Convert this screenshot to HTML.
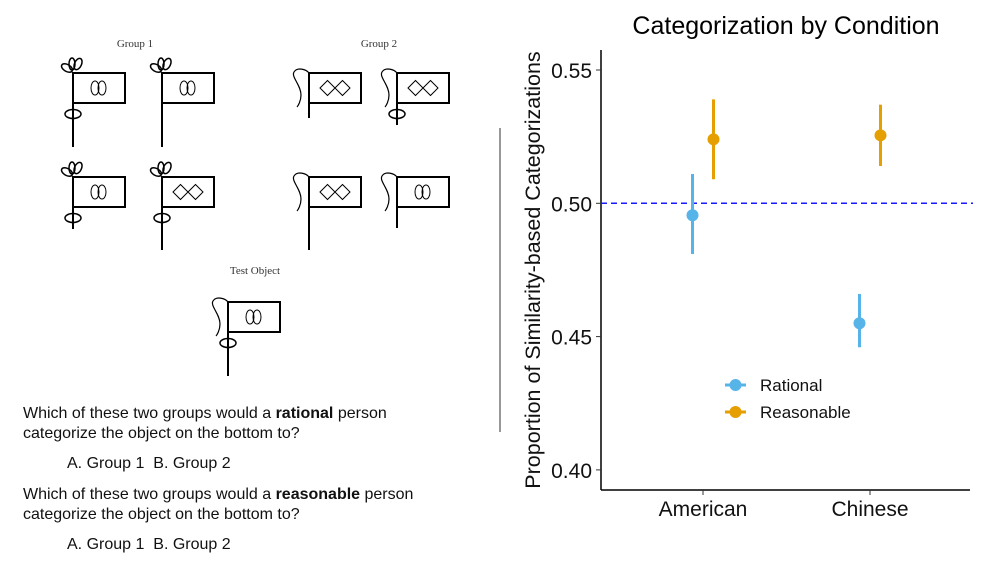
<!DOCTYPE html>
<html><head><meta charset="utf-8"><style>
html,body{margin:0;padding:0;background:#fff;}
svg{display:block;font-family:"Liberation Sans",sans-serif;}
</style></head><body>
<svg id="svg" width="1000" height="563" viewBox="0 0 1000 563">
  <g id="stimuli" fill="none" stroke="#000" stroke-width="2">
    <text x="135" y="47" font-family="Liberation Serif,serif" font-size="11" fill="#333" stroke="none" text-anchor="middle">Group 1</text>
    <text x="379" y="47" font-family="Liberation Serif,serif" font-size="11" fill="#333" stroke="none" text-anchor="middle">Group 2</text>
    <text x="255" y="274" font-family="Liberation Serif,serif" font-size="11" fill="#333" stroke="none" text-anchor="middle">Test Object</text>
  </g>
  <g font-family="Liberation Sans,DejaVu Sans,sans-serif" font-size="16" fill="#111">
    <text x="23" y="418">Which of these two groups would a <tspan font-weight="bold">rational</tspan> person</text>
    <text x="23" y="438">categorize the object on the bottom to?</text>
    <text x="67" y="468">A. Group 1&#160;&#160;B. Group 2</text>
    <text x="23" y="499">Which of these two groups would a <tspan font-weight="bold">reasonable</tspan> person</text>
    <text x="23" y="519">categorize the object on the bottom to?</text>
    <text x="67" y="549">A. Group 1&#160;&#160;B. Group 2</text>
  </g>
  <line x1="500" y1="128" x2="500" y2="432" stroke="#777" stroke-width="1.5"/>
  <g id="chart"></g>
</svg>
<script>
const categories = ["American", "Chinese"];
const seriesNames = ["Rational", "Reasonable"];
const rationalMean = [0.4955, 0.455];
const rationalLow = [0.481, 0.446];
const rationalHigh = [0.511, 0.466];
const reasonableMean = [0.524, 0.5255];
const reasonableLow = [0.509, 0.514];
const reasonableHigh = [0.539, 0.537];
const yTicks = [0.40, 0.45, 0.50, 0.55];
const yTickLabels = ["0.40", "0.45", "0.50", "0.55"];
const refValue = 0.50;

const NS = "http://www.w3.org/2000/svg";
function mk(tag, attrs, parent){const e=document.createElementNS(NS,tag);for(const k in attrs)e.setAttribute(k,attrs[k]);parent.appendChild(e);return e;}

// ---- stimuli flags ----
const stim = document.getElementById('stimuli');
function flag(px, top, bottom, topDeco, ring, sym, name){
  const g = mk('g', {}, stim);
  
  
  mk('line', {x1:px, y1:top, x2:px, y2:bottom}, g);
  mk('rect', {x:px, y:top, width:52, height:30}, g);
  if (topDeco === 'flower') {
    mk('ellipse', {cx:px-6, cy:top-5, rx:6, ry:3.5, transform:`rotate(30 ${px-6} ${top-5})`, 'stroke-width':1.5}, g);
    mk('ellipse', {cx:px-1, cy:top-9, rx:3, ry:6, 'stroke-width':1.5}, g);
    mk('ellipse', {cx:px+5, cy:top-9, rx:3.5, ry:6, transform:`rotate(25 ${px+5} ${top-9})`, 'stroke-width':1.5}, g);
  } else {
    mk('path', {d:`M${px},${top} C${px-3},${top-4} ${px-12},${top-6} ${px-15},${top-1} C${px-18},${top+4} ${px-8},${top+12} ${px-8},${top+22} C${px-8},${top+28} ${px-11},${top+33} ${px-12},${top+34}`, 'stroke-width':1.2}, g);
  }
  if (ring) mk('ellipse', {cx:px, cy:top+41, rx:8, ry:4.5, 'stroke-width':1.5}, g);
  const cx = px+26, cy = top+15;
  if (sym === 'oval') {
    mk('ellipse', {cx:cx-4, cy:cy, rx:4, ry:7, 'stroke-width':1}, g);
    mk('ellipse', {cx:cx+3, cy:cy, rx:4, ry:7, 'stroke-width':1}, g);
  } else {
    mk('path', {d:`M${cx-15},${cy} L${cx-7.5},${cy-7.5} L${cx},${cy} L${cx-7.5},${cy+7.5} Z M${cx},${cy} L${cx+7.5},${cy-7.5} L${cx+15},${cy} L${cx+7.5},${cy+7.5} Z`, 'stroke-width':1}, g);
  }
}
flag(73, 73, 147, 'flower', true, 'oval', 'group1-flag-1');
flag(162, 73, 147, 'flower', false, 'oval', 'group1-flag-2');
flag(73, 177, 229, 'flower', true, 'oval', 'group1-flag-3');
flag(162, 177, 250, 'flower', true, 'diamond', 'group1-flag-4');
flag(309, 73, 118, 'string', false, 'diamond', 'group2-flag-1');
flag(397, 73, 125, 'string', true, 'diamond', 'group2-flag-2');
flag(309, 177, 250, 'string', false, 'diamond', 'group2-flag-3');
flag(397, 177, 228, 'string', false, 'oval', 'group2-flag-4');
flag(228, 302, 376, 'string', true, 'oval', 'test-object-flag');

// ---- chart ----
const chart = document.getElementById('chart');
const X0 = 601, X1 = 970, Yax = 490, Ytop = 50;
const yScale = v => 203.3 - (v - 0.50) / 0.05 * 133.3;
const catX = [703, 870];
const xScale = (i, s) => catX[i] + (s === 0 ? -10.5 : 10.5);
const colors = ["#56B4E9", "#E69F00"];

const title = mk('text', {x:786, y:34, 'font-size':25, 'text-anchor':'middle', fill:'#000'}, chart);
title.textContent = "Categorization by Condition";



const yAxis = mk('line', {x1:X0, y1:Ytop, x2:X0, y2:Yax, stroke:'#000', 'stroke-width':1.5}, chart);


const xAxis = mk('line', {x1:X0, y1:Yax, x2:X1, y2:Yax, stroke:'#000', 'stroke-width':1.5}, chart);



yTicks.forEach((v, i) => {
  const y = yScale(v);
  const t = mk('line', {x1:X0-5, y1:y, x2:X0, y2:y, stroke:'#333', 'stroke-width':1}, chart);
  
  
  const l = mk('text', {x:X0-9, y:y+8, 'font-size':21, 'text-anchor':'end', fill:'#111'}, chart);
  l.textContent = yTickLabels[i];
  
  
});
categories.forEach((c, i) => {
  const t = mk('line', {x1:catX[i], y1:Yax, x2:catX[i], y2:Yax+5, stroke:'#333', 'stroke-width':1}, chart);
  
  
  const l = mk('text', {x:catX[i], y:Yax+26, 'font-size':21, 'text-anchor':'middle', fill:'#111'}, chart);
  l.textContent = c;
  
  
});
const yTitle = mk('text', {x:0, y:0, 'font-size':21.5, 'text-anchor':'middle', fill:'#111', transform:'translate(540 270) rotate(-90)'}, chart);
yTitle.textContent = "Proportion of Similarity-based Categorizations";



const ref = mk('line', {x1:X0, y1:yScale(refValue), x2:X1+3, y2:yScale(refValue), stroke:'#1a1aff', 'stroke-width':1.5, 'stroke-dasharray':'6,4'}, chart);



const series = [[rationalMean, rationalLow, rationalHigh], [reasonableMean, reasonableLow, reasonableHigh]];
series.forEach((s, si) => {
  categories.forEach((c, i) => {
    const x = xScale(i, si);
    const e = mk('line', {x1:x, y1:yScale(s[1][i]), x2:x, y2:yScale(s[2][i]), stroke:colors[si], 'stroke-width':3}, chart);
    
    
    const p = mk('circle', {cx:x, cy:yScale(s[0][i]), r:6, fill:colors[si]}, chart);
    
    
  });
});

seriesNames.forEach((n, i) => {
  const y = 385 + i * 27;
  const g = mk('g', {}, chart);
  
  
  mk('line', {x1:725, y1:y, x2:746, y2:y, stroke:colors[i], 'stroke-width':3}, g);
  mk('circle', {cx:735.5, cy:y, r:6, fill:colors[i]}, g);
  const t = mk('text', {x:760, y:y+6, 'font-size':17, fill:'#111'}, g);
  t.textContent = n;
});
</script>
</body></html>
